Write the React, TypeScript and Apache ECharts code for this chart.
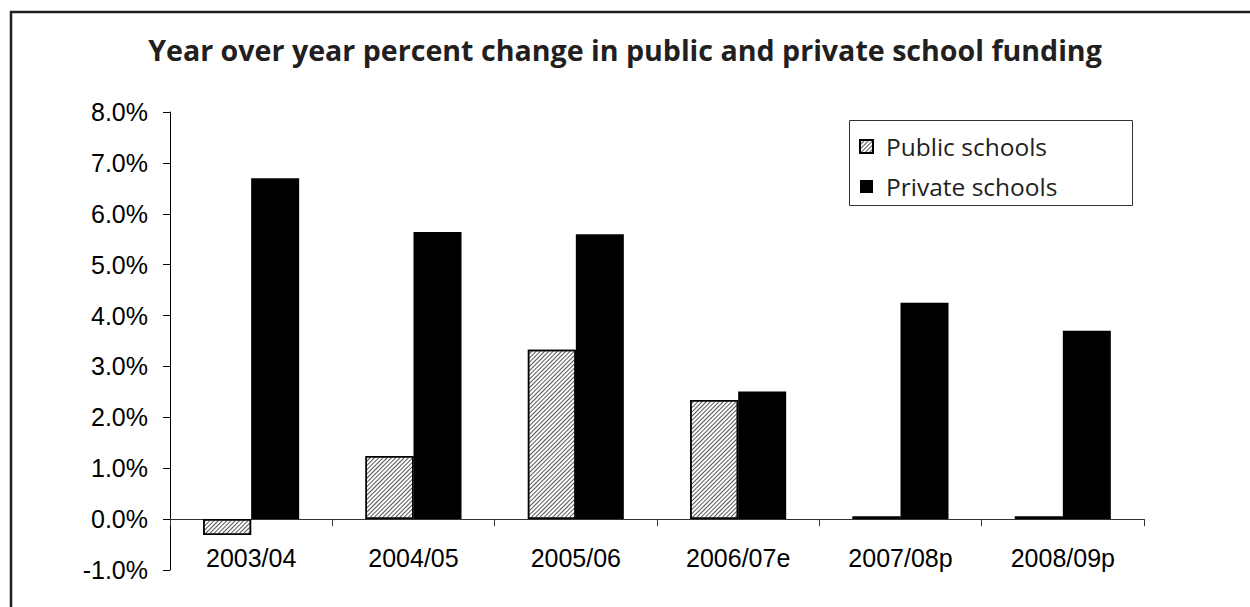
import React, { useEffect, useRef } from "react";
import * as echarts from "echarts";

const categories = ["2003/04", "2004/05", "2005/06", "2006/07e", "2007/08p", "2008/09p"];
const publicSchools = [-0.31, 1.24, 3.33, 2.34, 0.05, 0.05];
const privateSchools = [6.7, 5.64, 5.6, 2.51, 4.25, 3.7];
const yTicks = { min: -1, max: 8, interval: 1 };
const titleText = "Year over year percent change in public and private school funding";

export default function App() {
  const ref = useRef<HTMLDivElement>(null);
  useEffect(() => {
    const chart = echarts.init(ref.current!, null, { renderer: "svg", width: 1250, height: 607 });
    const hatch = {
      symbol: "rect",
      symbolSize: 1,
      dashArrayX: [1, 0],
      dashArrayY: [1, 1.6],
      rotation: -Math.PI / 4,
      color: "#555",
      backgroundColor: "#fff",
    };
    chart.setOption({
      animation: false,
      backgroundColor: "#fff",
      title: {
        text: titleText,
        left: "center",
        top: 30,
        textStyle: { fontFamily: "Open Sans", fontWeight: "bold", fontSize: 28.6, color: "#231f20" },
      },
      graphic: [
        {
          type: "rect",
          shape: { x: 11, y: 12, width: 1400, height: 800 },
          style: { fill: "none", stroke: "#231f20", lineWidth: 2.5 },
        },
        {
          type: "rect",
          shape: { x: 849.5, y: 120.5, width: 283, height: 85 },
          style: { fill: "#fff", stroke: "#333", lineWidth: 1 },
          z: 0,
        },
      ],
      legend: {
        orient: "vertical",
        left: 859,
        top: 134,
        padding: 0,
        itemWidth: 13,
        itemHeight: 13,
        itemGap: 15,
        icon: "rect",
        textStyle: { fontFamily: "Open Sans", fontSize: 24.5, color: "#231f20", lineHeight: 20, padding: [0, 0, 0, 8] },
        z: 10,
      },
      grid: { left: 170, top: 112, width: 974, height: 458, containLabel: false, outerBoundsMode: "none" },
      xAxis: {
        type: "category",
        data: categories,
        axisLine: { onZero: true, lineStyle: { color: "#333", width: 1 } },
        axisTick: { show: true, length: 7, lineStyle: { color: "#333" } },
        axisLabel: { fontFamily: "Liberation Sans", fontSize: 25, color: "#000", margin: -25 },
      },
      yAxis: {
        type: "value",
        min: yTicks.min,
        max: yTicks.max,
        interval: yTicks.interval,
        axisLine: { show: true, lineStyle: { color: "#000", width: 1 } },
        axisTick: { show: true, length: 7, lineStyle: { color: "#000" } },
        splitLine: { show: false },
        axisLabel: {
          fontFamily: "Liberation Sans",
          fontSize: 25,
          color: "#000",
          margin: 22,
          formatter: (v: number) => v.toFixed(1) + "%",
        },
      },
      series: [
        {
          name: "Public schools",
          type: "bar",
          data: publicSchools,
          barWidth: 48,
          barGap: "0%",
          itemStyle: { color: "#fff", borderColor: "#000", borderWidth: 1.5, decal: hatch },
        },
        {
          name: "Private schools",
          type: "bar",
          data: privateSchools,
          barWidth: 48,
          barGap: "0%",
          itemStyle: { color: "#000", borderColor: "#000", borderWidth: 0 },
        },
      ],
    });
    return () => chart.dispose();
  }, []);
  return <div ref={ref} style={{ position: "fixed", left: 0, top: 0, width: 1250, height: 607 }} />;
}
